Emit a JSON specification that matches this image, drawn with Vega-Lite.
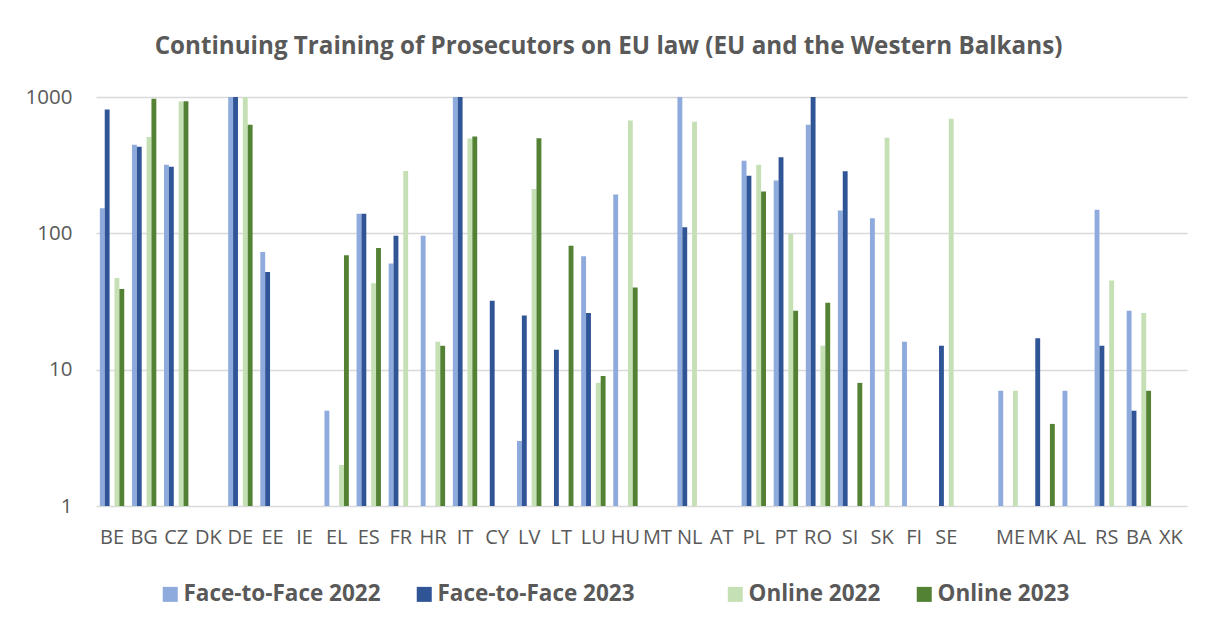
{
  "$schema": "https://vega.github.io/schema/vega-lite/v6.json",
  "width": 1091,
  "height": 409,
  "autosize": {"type": "none"},
  "padding": {"left": 96, "top": 97, "right": 19, "bottom": 122},
  "background": "white",
  "title": {
    "text": "Continuing Training of Prosecutors on EU law (EU and the Western Balkans)",
    "font": "Open Sans",
    "fontSize": 24.2,
    "fontWeight": "bold",
    "color": "#595959",
    "anchor": "middle",
    "baseline": "alphabetic",
    "frame": "group",
    "offset": 9,
    "dx": -33
  },
  "data": {
    "values": [
      {"country": "BE", "series": "Face-to-Face 2022", "value": 153},
      {"country": "BE", "series": "Face-to-Face 2023", "value": 810},
      {"country": "BE", "series": "Online 2022", "value": 47},
      {"country": "BE", "series": "Online 2023", "value": 39},
      {"country": "BG", "series": "Face-to-Face 2022", "value": 446},
      {"country": "BG", "series": "Face-to-Face 2023", "value": 432},
      {"country": "BG", "series": "Online 2022", "value": 508},
      {"country": "BG", "series": "Online 2023", "value": 970},
      {"country": "CZ", "series": "Face-to-Face 2022", "value": 319},
      {"country": "CZ", "series": "Face-to-Face 2023", "value": 308},
      {"country": "CZ", "series": "Online 2022", "value": 927},
      {"country": "CZ", "series": "Online 2023", "value": 932},
      {"country": "DE", "series": "Face-to-Face 2022", "value": 1000},
      {"country": "DE", "series": "Face-to-Face 2023", "value": 1000},
      {"country": "DE", "series": "Online 2022", "value": 1000},
      {"country": "DE", "series": "Online 2023", "value": 626},
      {"country": "EE", "series": "Face-to-Face 2022", "value": 73},
      {"country": "EE", "series": "Face-to-Face 2023", "value": 52},
      {"country": "EL", "series": "Face-to-Face 2022", "value": 5},
      {"country": "EL", "series": "Online 2022", "value": 2},
      {"country": "EL", "series": "Online 2023", "value": 69},
      {"country": "ES", "series": "Face-to-Face 2022", "value": 139},
      {"country": "ES", "series": "Face-to-Face 2023", "value": 139},
      {"country": "ES", "series": "Online 2022", "value": 43},
      {"country": "ES", "series": "Online 2023", "value": 78},
      {"country": "FR", "series": "Face-to-Face 2022", "value": 60},
      {"country": "FR", "series": "Face-to-Face 2023", "value": 96},
      {"country": "FR", "series": "Online 2022", "value": 286},
      {"country": "HR", "series": "Face-to-Face 2022", "value": 96},
      {"country": "HR", "series": "Online 2022", "value": 16},
      {"country": "HR", "series": "Online 2023", "value": 15},
      {"country": "IT", "series": "Face-to-Face 2022", "value": 1000},
      {"country": "IT", "series": "Face-to-Face 2023", "value": 1000},
      {"country": "IT", "series": "Online 2022", "value": 497},
      {"country": "IT", "series": "Online 2023", "value": 514},
      {"country": "CY", "series": "Face-to-Face 2023", "value": 32},
      {"country": "LV", "series": "Face-to-Face 2022", "value": 3},
      {"country": "LV", "series": "Face-to-Face 2023", "value": 25},
      {"country": "LV", "series": "Online 2022", "value": 211},
      {"country": "LV", "series": "Online 2023", "value": 499},
      {"country": "LT", "series": "Face-to-Face 2023", "value": 14},
      {"country": "LT", "series": "Online 2023", "value": 81},
      {"country": "LU", "series": "Face-to-Face 2022", "value": 68},
      {"country": "LU", "series": "Face-to-Face 2023", "value": 26},
      {"country": "LU", "series": "Online 2022", "value": 8},
      {"country": "LU", "series": "Online 2023", "value": 9},
      {"country": "HU", "series": "Face-to-Face 2022", "value": 193},
      {"country": "HU", "series": "Online 2022", "value": 673},
      {"country": "HU", "series": "Online 2023", "value": 40},
      {"country": "NL", "series": "Face-to-Face 2022", "value": 1000},
      {"country": "NL", "series": "Face-to-Face 2023", "value": 111},
      {"country": "NL", "series": "Online 2022", "value": 658},
      {"country": "PL", "series": "Face-to-Face 2022", "value": 341},
      {"country": "PL", "series": "Face-to-Face 2023", "value": 265},
      {"country": "PL", "series": "Online 2022", "value": 319},
      {"country": "PL", "series": "Online 2023", "value": 203},
      {"country": "PT", "series": "Face-to-Face 2022", "value": 244},
      {"country": "PT", "series": "Face-to-Face 2023", "value": 362},
      {"country": "PT", "series": "Online 2022", "value": 99},
      {"country": "PT", "series": "Online 2023", "value": 27},
      {"country": "RO", "series": "Face-to-Face 2022", "value": 626},
      {"country": "RO", "series": "Face-to-Face 2023", "value": 1000},
      {"country": "RO", "series": "Online 2022", "value": 15},
      {"country": "RO", "series": "Online 2023", "value": 31},
      {"country": "SI", "series": "Face-to-Face 2022", "value": 147},
      {"country": "SI", "series": "Face-to-Face 2023", "value": 285},
      {"country": "SI", "series": "Online 2023", "value": 8},
      {"country": "SK", "series": "Face-to-Face 2022", "value": 129},
      {"country": "SK", "series": "Online 2022", "value": 502},
      {"country": "FI", "series": "Face-to-Face 2022", "value": 16},
      {"country": "SE", "series": "Face-to-Face 2023", "value": 15},
      {"country": "SE", "series": "Online 2022", "value": 692},
      {"country": "ME", "series": "Face-to-Face 2022", "value": 7},
      {"country": "ME", "series": "Online 2022", "value": 7},
      {"country": "MK", "series": "Face-to-Face 2023", "value": 17},
      {"country": "MK", "series": "Online 2023", "value": 4},
      {"country": "AL", "series": "Face-to-Face 2022", "value": 7},
      {"country": "RS", "series": "Face-to-Face 2022", "value": 149},
      {"country": "RS", "series": "Face-to-Face 2023", "value": 15},
      {"country": "RS", "series": "Online 2022", "value": 45},
      {"country": "BA", "series": "Face-to-Face 2022", "value": 27},
      {"country": "BA", "series": "Face-to-Face 2023", "value": 5},
      {"country": "BA", "series": "Online 2022", "value": 26},
      {"country": "BA", "series": "Online 2023", "value": 7}
    ]
  },
  "mark": {"type": "bar"},
  "encoding": {
    "x": {
      "field": "country",
      "type": "nominal",
      "title": null,
      "scale": {
        "domain": ["BE", "BG", "CZ", "DK", "DE", "EE", "IE", "EL", "ES", "FR", "HR", "IT", "CY", "LV", "LT", "LU", "HU", "MT", "NL", "AT", "PL", "PT", "RO", "SI", "SK", "FI", "SE", " ", "ME", "MK", "AL", "RS", "BA", "XK"],
        "paddingInner": 0.24,
        "paddingOuter": 0.12
      },
      "axis": {
        "domain": false,
        "ticks": false,
        "grid": false,
        "labelAngle": 0,
        "labelOverlap": false,
        "labelPadding": 21,
        "labelFont": "Open Sans",
        "labelFontSize": 20,
        "labelColor": "#595959"
      }
    },
    "xOffset": {
      "field": "series",
      "type": "nominal",
      "scale": {
        "domain": ["Face-to-Face 2022", "Face-to-Face 2023", " ", "Online 2022", "Online 2023"],
        "paddingInner": 0,
        "paddingOuter": 0
      }
    },
    "y": {
      "field": "value",
      "type": "quantitative",
      "title": null,
      "scale": {"type": "log", "domain": [1, 1000]},
      "axis": {
        "values": [1, 10, 100, 1000],
        "format": "d",
        "domain": false,
        "ticks": false,
        "grid": true,
        "gridColor": "#d9d9d9",
        "gridWidth": 1.3,
        "labelPadding": 24,
        "labelFont": "Open Sans",
        "labelFontSize": 20.5,
        "labelColor": "#595959"
      }
    },
    "y2": {"datum": 1},
    "color": {
      "field": "series",
      "type": "nominal",
      "scale": {
        "domain": ["Face-to-Face 2022", "Face-to-Face 2023", " ", "Online 2022", "Online 2023"],
        "range": ["#8faadc", "#2f5597", "#ffffff", "#c5e0b4", "#548235"]
      },
      "legend": {
        "title": null,
        "orient": "none",
        "legendX": 63,
        "legendY": 486,
        "direction": "horizontal",
        "symbolType": "square",
        "symbolSize": 225,
        "symbolStrokeWidth": 0,
        "labelOffset": 2,
        "columnPadding": 32,
        "labelLimit": 0,
        "labelExpr": "datum.label === ' ' ? '' : datum.label",
        "labelFont": "Open Sans",
        "labelFontSize": 22.5,
        "labelFontWeight": "bold",
        "labelColor": "#595959"
      }
    }
  },
  "config": {"view": {"stroke": null}}
}
